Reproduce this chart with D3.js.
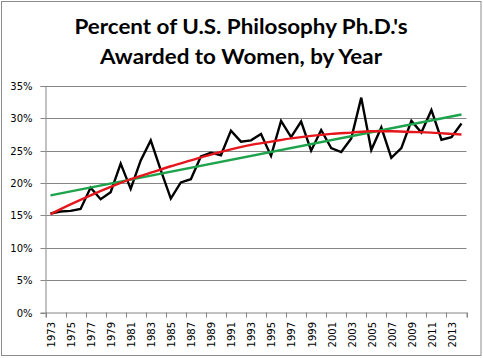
<!DOCTYPE html>
<html>
<head>
<meta charset="utf-8">
<script src="https://cdn.jsdelivr.net/npm/d3@7"></script>
<style>
html,body{margin:0;padding:0;background:#fff;}
svg{display:block;}
</style>
</head>
<body>
<svg id="chart" width="483" height="358"></svg>
<script>
const titleLines = ["Percent of U.S. Philosophy Ph.D.'s", "Awarded to Women, by Year"];
const years = d3.range(1973, 2015);
const womenPct = [15.3,15.6,15.7,16.0,19.3,17.5,18.6,23.0,19.1,23.5,26.6,22.0,17.6,20.1,20.6,24.1,24.7,24.3,28.1,26.4,26.6,27.6,24.2,29.6,27.1,29.5,25.0,28.2,25.4,24.8,26.9,33.2,25.1,28.6,23.9,25.4,29.6,27.8,31.3,26.7,27.1,29.2];
const polyYears = [1973,1975,1977,1979,1981,1983,1985,1987,1989,1991,1993,1995,1997,1999,2001,2003,2005,2007,2009,2011,2013,2014];
const polyTrend = [15.2,16.7,18.1,19.4,20.6,21.6,22.6,23.5,24.4,25.2,25.9,26.4,26.9,27.3,27.6,27.8,28.0,28.0,27.9,27.8,27.6,27.5];
const linYears = [1973, 2014];
const linTrend = [18.1, 30.6];
const yTicks = [0,5,10,15,20,25,30,35];
const labelYears = d3.range(1973, 2015, 2);

const svg = d3.select("#chart");
const L = 45.5, R = 466.5, T = 86, B = 312.5;

// outer border
svg.append("rect").attr("x",1.5).attr("y",1.5).attr("width",479.5).attr("height",354)
  .attr("fill","#fff").attr("stroke","#8c8c8c").attr("stroke-width",1);

// title
const tw = [333, 282];
titleLines.forEach((t,i)=>{
  svg.append("text").attr("x",241).attr("y",33.5+i*30)
    .attr("text-anchor","middle")
    .attr("font-family","Lato, 'Open Sans', sans-serif").attr("font-weight","bold")
    .attr("font-size",21).attr("fill","#000")
    .attr("textLength",tw[i]).attr("lengthAdjust","spacingAndGlyphs")
    .text(t);
});

const xBand = d3.scaleBand().domain(years).range([L,R]).padding(0);
const xEdge = d3.scaleLinear().domain([1973,2015]).range([L,R]);
const xc = yr => xBand(yr) + xBand.bandwidth()/2;
const y = d3.scaleLinear().domain([0,35]).range([B,T]);

// gridlines
svg.append("g").selectAll("line").data(yTicks.filter(d=>d>0)).join("line")
  .attr("x1",L).attr("x2",R).attr("y1",d=>Math.round(y(d))+0.5).attr("y2",d=>Math.round(y(d))+0.5)
  .attr("stroke","#868686").attr("stroke-width",1);

// y axis
const yAxis = svg.append("g").attr("transform",`translate(${L},0)`)
  .call(d3.axisLeft(y).tickValues(yTicks).tickSize(5).tickPadding(8).tickFormat(d=>d+"%"));
yAxis.select(".domain").attr("stroke","#868686");
yAxis.selectAll(".tick line").attr("stroke","#868686");
yAxis.selectAll(".tick").attr("transform",d=>`translate(0,${Math.round(y(d))+0.5})`);
yAxis.selectAll("text").attr("font-family","'DejaVu Sans', sans-serif").attr("font-size",10).attr("fill","#000");

// x axis
const xAxis = svg.append("g").attr("transform",`translate(0,${B})`)
  .call(d3.axisBottom(xEdge).tickValues(d3.range(1973,2016,2)).tickSize(5).tickFormat(""));
xAxis.select(".domain").attr("stroke","#868686");
xAxis.selectAll(".tick line").attr("stroke","#868686");
xAxis.selectAll(".tick").attr("transform",d=>`translate(${Math.round(xEdge(d))+0.5},0)`);

svg.append("g").selectAll("text").data(labelYears).join("text")
  .attr("transform",d=>`translate(${xc(d)+0.8},${B+9.5}) rotate(-90)`)
  .attr("text-anchor","end").attr("dy","0.36em")
  .attr("font-family","'DejaVu Sans', sans-serif").attr("font-size",10).attr("fill","#000")
  .text(d=>d);

// data line
const line = d3.line().x(d=>xc(d[0])).y(d=>y(d[1]));
svg.append("path").datum(years.map((yr,i)=>[yr,womenPct[i]]))
  .attr("d",line).attr("fill","none").attr("stroke","#000").attr("stroke-width",2.4)
  .attr("stroke-linejoin","miter");

// linear trend
svg.append("path").datum(linYears.map((yr,i)=>[yr,linTrend[i]]))
  .attr("d",line).attr("fill","none").attr("stroke","#1ea34c").attr("stroke-width",2.4);

// polynomial trend
svg.append("path").datum(polyYears.map((yr,i)=>[yr,polyTrend[i]]))
  .attr("d",line.curve(d3.curveMonotoneX)).attr("fill","none").attr("stroke","#e5171d").attr("stroke-width",2.4);
</script>
</body>
</html>
